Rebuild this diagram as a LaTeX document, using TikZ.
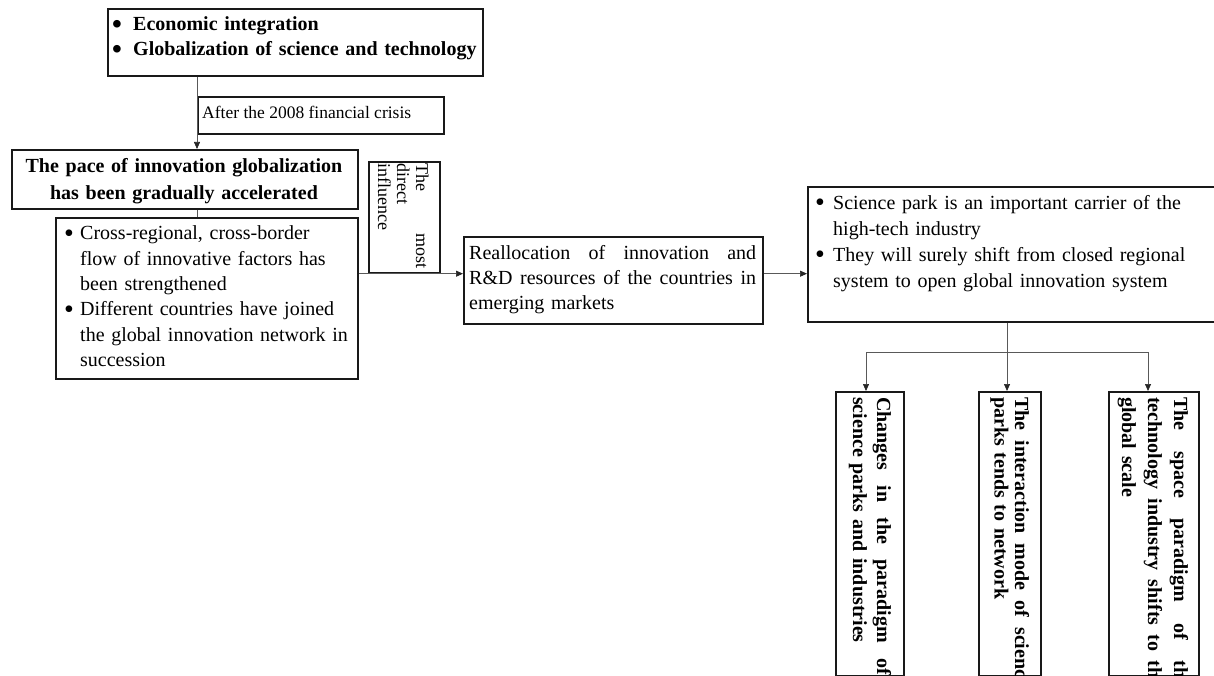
\documentclass[tikz,border=0pt]{standalone}
\usepackage{fontspec}
\setmainfont{Liberation Serif}
\usetikzlibrary{arrows.meta}
\newcommand\mybul{\raisebox{-2.2pt}[0pt][0pt]{\fontsize{28}{28}\selectfont\textbullet}}
\newcommand\jl[2]{\makebox[#1][l]{#2}}
\begin{document}
\begin{tikzpicture}[x=1pt,y=-1pt,
  box/.style={draw=black!90, line width=1.7pt, inner sep=0pt, anchor=north west},
  conn/.style={draw=black!65, line width=0.7pt},
  arr/.style={conn, -{Triangle[length=7pt,width=6pt,black!85]}},
  txt/.style={inner sep=0pt, align=left, anchor=base west, font=\fontsize{20}{25.3}\selectfont},
  vtxt/.style={inner sep=0pt, rotate=-90, anchor=base west, align=left, text width=300pt},
]
\useasboundingbox (0,0) rectangle (1214,676);
\clip (0,0) rectangle (1214,676);

% top box
\node[box, minimum width=375pt, minimum height=67pt] (top) at (107,8) {};
\node[txt, text width=420pt, font=\bfseries\fontsize{20}{25}\selectfont] (toptxt) at (112,31)
  {\makebox[21pt][l]{\mybul}Economic integration\\
   \makebox[21pt][l]{\mybul}Globalization of science and technology};

% crisis label
\node[box, minimum width=246pt, minimum height=37pt] (crisis) at (197,96) {};
\node[inner sep=0pt, anchor=base west, font=\fontsize{17.5}{20}\selectfont] (crisistxt) at (202,119)
  {After the 2008 financial crisis};

% pace box
\node[box, minimum width=346pt, minimum height=59pt] (pace) at (11,149) {};
\node[inner sep=0pt, anchor=base, text width=346pt, align=center, font=\bfseries\fontsize{20}{26.5}\selectfont] (pacetxt) at (184,173)
  {The pace of innovation globalization\\has been gradually accelerated};

% bullets box
\node[box, minimum width=302pt, minimum height=161pt] (bul) at (55,217) {};
\node[txt, text width=320pt] (bultxt) at (64,240)
  {\makebox[16pt][l]{\mybul}Cross-regional, cross-border\\
   \hspace*{16pt}flow of innovative factors has\\
   \hspace*{16pt}been strengthened\\
   \makebox[16pt][l]{\mybul}Different countries have joined\\
   \hspace*{16pt}the global innovation network in\\
   \hspace*{16pt}succession};

% most direct influence
\node[box, minimum width=71pt, minimum height=111pt] (infl) at (368,161) {};
\node[inner sep=0pt, rotate=-90, anchor=base west, text width=110pt, align=left, font=\fontsize{18}{19}\selectfont] (infltxt) at (416,163)
  {\jl{105pt}{The\hfill most}\\direct\\influence};

% reallocation box
\node[box, minimum width=299pt, minimum height=87pt] (real) at (463,236) {};
\node[txt, text width=300pt, font=\fontsize{20}{25}\selectfont] (realtxt) at (469,259.5)
  {\jl{287pt}{Reallocation\hfill of\hfill innovation\hfill and}\\
   \jl{287pt}{R\&D\hfill resources\hfill of\hfill the\hfill countries\hfill in}\\
   emerging markets};

% science park box
\node[box, minimum width=420pt, minimum height=135pt] (sci) at (807,186) {};
\node[txt, text width=420pt, font=\fontsize{20}{25.8}\selectfont] (scitxt) at (815,209.7)
  {\makebox[18pt][l]{\mybul}Science park is an important carrier of the\\
   \hspace*{18pt}high-tech industry\\
   \makebox[18pt][l]{\mybul}They will surely shift from closed regional\\
   \hspace*{18pt}system to open global innovation system};

% three vertical boxes
\node[box, minimum width=68pt, minimum height=284pt] (b1) at (835,391) {};
\node[box, minimum width=62pt, minimum height=284pt] (b2) at (978,391) {};
\node[box, minimum width=90pt, minimum height=284pt] (b3) at (1108,391) {};

\begin{scope}
\clip (b1.north west) rectangle (b1.south east);
\node[vtxt, font=\bfseries\fontsize{20}{24}\selectfont] (b1txt) at (877,397)
  {\jl{278pt}{Changes\hfill in\hfill the\hfill paradigm\hfill of}\\science parks and industries};
\end{scope}
\begin{scope}
\clip (b2.north west) rectangle (b2.south east);
\node[vtxt, font=\bfseries\fontsize{20}{20.5}\selectfont] (b2txt) at (1015,397)
  {\jl{290pt}{The\hfill interaction\hfill mode\hfill of\hfill science}\\parks tends to network};
\end{scope}
\begin{scope}
\clip (b3.north west) rectangle (b3.south east);
\node[vtxt, font=\bfseries\fontsize{20}{26}\selectfont] (b3txt) at (1174,397)
  {\jl{290pt}{The\hfill space\hfill paradigm\hfill of\hfill the}\\
   \jl{290pt}{technology\hfill industry\hfill shifts\hfill to\hfill the}\\global scale};
\end{scope}

% connectors
\draw[arr] (top.south -| crisis.west) -- (pace.north -| crisis.west);
\draw[conn] (pace.south -| crisis.west) -- (bul.north -| crisis.west);
\draw[arr] (bul.east |- infl.south) -- (real.west |- infl.south);
\draw[arr] (real.east |- infl.south) -- (sci.west |- infl.south);

\coordinate (t1) at (866,352);
\coordinate (t2) at (1007,352);
\coordinate (t3) at (1148,352);
\draw[conn] (sci.south -| t2) -- (t2);
\draw[conn] (t1) -- (t3);
\draw[arr] (t1) -- (t1 |- b1.north);
\draw[arr] (t2) -- (t2 |- b2.north);
\draw[arr] (t3) -- (t3 |- b3.north);
\end{tikzpicture}
\end{document}
